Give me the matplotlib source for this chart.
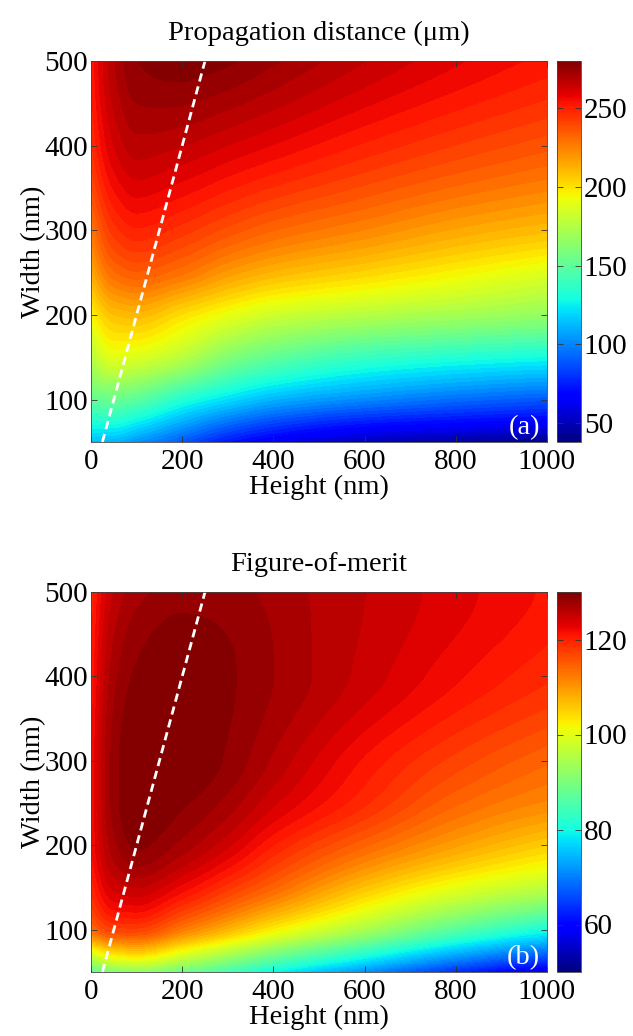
import numpy as np
import matplotlib
matplotlib.use("Agg")
import matplotlib.pyplot as plt
from matplotlib.colors import Normalize
from matplotlib.cm import ScalarMappable

plt.rcParams['font.family'] = ['Liberation Serif', 'DejaVu Serif']

# ---------------- data ----------------
heights = [0, 50, 100, 200, 300, 400, 600, 800, 1000]        # nm (x axis)
widths = [50, 75, 100, 150, 200, 250, 300, 400, 500]          # nm (y axis)

# Propagation distance (um); rows follow `widths`, columns follow `heights`
prop_w50 = [112, 110, 102, 88, 72, 62, 50, 44, 39]
prop_w75 = [132, 132, 126, 110, 96, 86, 75, 70, 66]
prop_w100 = [150, 152, 148, 132, 120, 110, 100, 93, 88]
prop_w150 = [174, 188, 186, 176, 160, 150, 138, 132, 128]
prop_w200 = [194, 208, 210, 200, 190, 182, 175, 170, 165]
prop_w250 = [213, 230, 234, 228, 218, 211, 203, 195, 187]
prop_w300 = [226, 244, 249, 244, 237, 231, 223, 215, 209]
prop_w400 = [245, 261, 267, 265, 261, 257, 249, 242, 236]
prop_w500 = [250, 268, 276, 279, 277, 273, 265, 258, 252]

# Figure-of-merit; rows follow `widths`, columns follow `heights`
fom_w50 = [86, 90, 91, 88, 84, 79, 71, 63, 57]
fom_w75 = [100, 105, 106, 101, 96, 91, 83, 75, 69]
fom_w100 = [113, 117, 117, 112, 107, 102, 94, 86, 80]
fom_w150 = [119, 124, 125, 122, 118, 114, 106, 100, 96]
fom_w200 = [121, 127, 129, 127, 124, 120, 114, 109, 105]
fom_w250 = [121, 128, 130, 129, 127, 124, 119, 114, 111]
fom_w300 = [121, 128, 130, 130, 128.5, 126, 121, 117, 114]
fom_w400 = [120, 127, 129, 130, 129, 127.5, 124.5, 121.5, 119]
fom_w500 = [119, 125, 127, 128, 128, 127, 125, 123, 121]

prop_rows = [prop_w50, prop_w75, prop_w100, prop_w150, prop_w200,
             prop_w250, prop_w300, prop_w400, prop_w500]
fom_rows = [fom_w50, fom_w75, fom_w100, fom_w150, fom_w200,
            fom_w250, fom_w300, fom_w400, fom_w500]

prop_limits = (38, 280)
fom_limits = (50, 130)
prop_ticks = [50, 100, 150, 200, 250]
fom_ticks = [60, 80, 100, 120]

x_ticks = [0, 200, 400, 600, 800, 1000]
y_ticks = [100, 200, 300, 400, 500]

# dashed guide line (width = 2 x height)
line_h = [25, 250]
line_w = [50, 500]


def pchip(x, y, xq):
    """Monotone piecewise-cubic Hermite interpolation (Fritsch-Carlson)."""
    x = np.asarray(x, float)
    y = np.asarray(y, float)
    n = len(x)
    h = np.diff(x)
    delta = np.diff(y) / h
    d = np.zeros(n)
    for k in range(1, n - 1):
        if delta[k - 1] * delta[k] > 0:
            w1 = 2 * h[k] + h[k - 1]
            w2 = h[k] + 2 * h[k - 1]
            d[k] = (w1 + w2) / (w1 / delta[k - 1] + w2 / delta[k])

    def end(h0, h1, d0, d1):
        v = ((2 * h0 + h1) * d0 - h0 * d1) / (h0 + h1)
        if np.sign(v) != np.sign(d0):
            v = 0.0
        elif np.sign(d0) != np.sign(d1) and abs(v) > abs(3 * d0):
            v = 3 * d0
        return v

    d[0] = end(h[0], h[1], delta[0], delta[1])
    d[-1] = end(h[-1], h[-2], delta[-1], delta[-2])
    xq = np.asarray(xq, float)
    i = np.clip(np.searchsorted(x, xq) - 1, 0, n - 2)
    t = (xq - x[i]) / h[i]
    h00 = 2 * t**3 - 3 * t**2 + 1
    h10 = t**3 - 2 * t**2 + t
    h01 = -2 * t**3 + 3 * t**2
    h11 = t**3 - t**2
    return h00 * y[i] + h10 * h[i] * d[i] + h01 * y[i + 1] + h11 * h[i] * d[i + 1]


def smooth_field(h, w, rows, n=400):
    Z = np.asarray(rows, float)
    hf = np.linspace(min(h), max(h), n)
    wf = np.linspace(min(w), max(w), n)
    along_h = np.array([pchip(h, r, hf) for r in Z])            # (len(w), n)
    full = np.array([pchip(w, along_h[:, j], wf) for j in range(n)]).T
    HF, WF = np.meshgrid(hf, wf)
    return HF, WF, full


fig = plt.figure(figsize=(6.33, 10.36), dpi=100)

panels = [
    dict(rows=prop_rows, lim=prop_limits, ticks=prop_ticks,
         title='Propagation distance (\u03bcm)', tag='(a)',
         ax=[91 / 633, 1 - 442 / 1036, 456 / 633, 381 / 1036],
         cax=[557 / 633, 1 - 442 / 1036, 24 / 633, 381 / 1036]),
    dict(rows=fom_rows, lim=fom_limits, ticks=fom_ticks,
         title='Figure-of-merit', tag='(b)',
         ax=[91 / 633, 1 - 972 / 1036, 456 / 633, 380 / 1036],
         cax=[557 / 633, 1 - 972 / 1036, 24 / 633, 380 / 1036]),
]

fs_tick = 21
fs_lab = 20.5
for p in panels:
    ax = fig.add_axes(p['ax'])
    cax = fig.add_axes(p['cax'])
    HF, WF, ZF = smooth_field(heights, widths, p['rows'])
    vmin, vmax = p['lim']
    norm = Normalize(vmin=vmin, vmax=vmax)
    levels = np.linspace(vmin, vmax, 65)
    ZF = np.clip(ZF, vmin + 1e-6, vmax - 1e-6)
    ax.contourf(HF, WF, ZF, levels=levels, cmap='jet', norm=norm,
                antialiased=False)
    ax.plot(line_h, line_w, color='white', lw=2, ls=(0, (3.0, 1.8)))
    ax.set_xlim(0, 1000)
    ax.set_ylim(50, 500)
    ax.set_xticks(x_ticks)
    ax.set_yticks(y_ticks)
    ax.tick_params(direction='in', top=True, right=True, labelsize=fs_tick,
                   length=4, width=0.6, color='#333333')
    ax.tick_params(axis='x', pad=5)
    ax.tick_params(axis='y', pad=2)
    for s in ax.spines.values():
        s.set_linewidth(0.6)
        s.set_color('#444444')
    ax.set_xlabel('Height (nm)', fontsize=fs_lab, labelpad=0)
    ax.set_ylabel('Width (nm)', fontsize=fs_lab, labelpad=-1)
    ax.set_title(p['title'], fontsize=fs_lab, pad=15)
    ax.text(0.985, 0.005, p['tag'], transform=ax.transAxes, color='white',
            fontsize=fs_lab, ha='right', va='bottom')

    sm = ScalarMappable(norm=norm, cmap='jet')
    cb = fig.colorbar(sm, cax=cax, ticks=p['ticks'])
    cb.outline.set_linewidth(0.6)
    cb.outline.set_edgecolor('#444444')
    cax.tick_params(direction='in', labelsize=fs_tick, length=4, width=0.6,
                    color='#333333', left=True, right=True, pad=2)

fig.savefig('out.png', dpi=100)
